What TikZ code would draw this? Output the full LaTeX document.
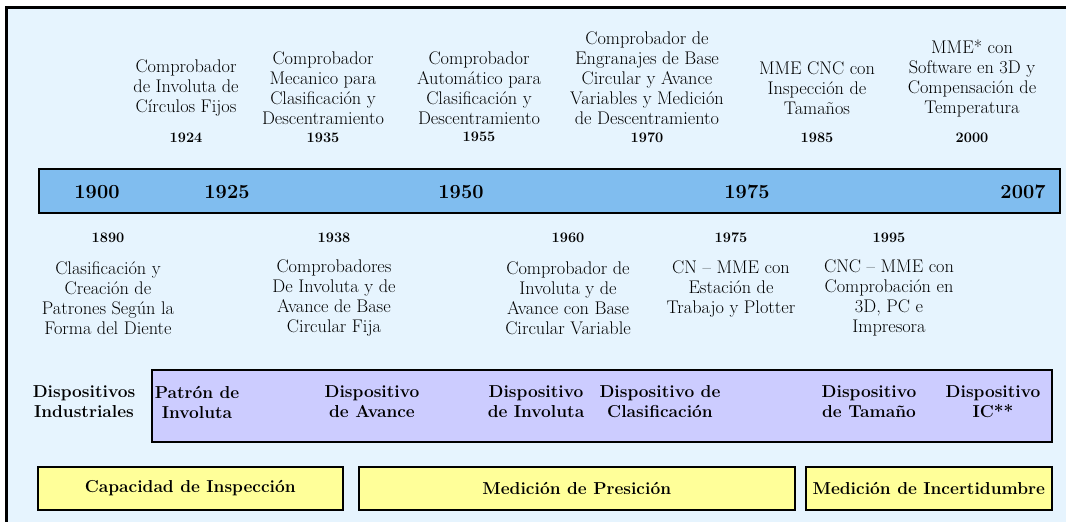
\documentclass[tikz,border=0pt]{standalone}
\definecolor{bgc}{HTML}{E6F4FE}
\definecolor{barc}{HTML}{80BDEF}
\definecolor{purc}{HTML}{CCCCFF}
\definecolor{yelc}{HTML}{FFFF99}
\begin{document}
\begin{tikzpicture}[x=1pt,y=-1pt,
  item/.style={align=center,font=\fontsize{18.3}{20}\selectfont,inner sep=0pt},
  yr/.style={font=\bfseries\fontsize{14.5}{18}\selectfont,inner sep=0pt},
  baryr/.style={font=\bfseries\fontsize{20}{24}\selectfont,inner sep=0pt},
  dev/.style={align=center,font=\bfseries\fontsize{17.3}{20}\selectfont,inner sep=0pt},
  boxbase/.style={draw=black,line width=1.5pt,anchor=north west,inner sep=0pt},
  cat/.style={boxbase,fill=yelc,font=\bfseries\fontsize{17.3}{20}\selectfont,minimum height=43pt},
]
\useasboundingbox (0,0) rectangle (1066,522);
\fill[white] (0,0) rectangle (1066,522);
\draw[line width=3pt,fill=bgc] (6.5,7.5) rectangle (1090,540);

% timeline bar
\node[boxbase,fill=barc,minimum width=1021pt,minimum height=44pt] (bar) at (38,168) {};
\node[baryr] (b1900) at (97,192) {1900};
\node[baryr] (b1925) at (227,192) {1925};
\node[baryr] (b1950) at (461,192) {1950};
\node[baryr] (b1975) at (747,192) {1975};
\node[baryr] (b2007) at (1023,192) {2007};

% upper items
\node[item] (u1) at (186,88) {Comprobador\\de Involuta de\\C\'{\i}rculos Fijos};
\node[yr] (y1924) at (186,138) {1924};
\node[item] (u2) at (323,88) {Comprobador\\Mecanico para\\Clasificaci\'on y\\Descentramiento};
\node[yr] (y1935) at (323,138) {1935};
\node[item] (u3) at (479,88) {Comprobador\\Autom\'atico para\\Clasificaci\'on y\\Descentramiento};
\node[yr] (y1955) at (479,137) {1955};
\node[item] (u4) at (647,78) {Comprobador de\\Engranajes de Base\\Circular y Avance\\Variables y Medici\'on\\de Descentramiento};
\node[yr] (y1970) at (647,138) {1970};
\node[item] (u5) at (817,88) {MME CNC con\\Inspecci\'on de\\Tama\~nos};
\node[yr] (y1985) at (817,138) {1985};
\node[item] (u6) at (972,78) {MME* con\\Software en 3D y\\Compensaci\'on de\\Temperatura};
\node[yr] (y2000) at (972,138) {2000};

% lower items
\node[yr] (y1890) at (108,238) {1890};
\node[item] (l1) at (108,298) {Clasificaci\'on y\\Creaci\'on de\\Patrones Seg\'un la\\Forma del Diente};
\node[yr] (y1938) at (334,238) {1938};
\node[item] (l2) at (334,298) {Comprobadores\\De Involuta y de\\Avance de Base\\Circular Fija};
\node[yr] (y1960) at (568,238) {1960};
\node[item] (l3) at (568,298) {Comprobador de\\Involuta y de\\Avance con Base\\Circular Variable};
\node[yr] (y1975) at (731,238) {1975};
\node[item] (l4) at (731,289) {CN -- MME con\\Estaci\'on de\\Trabajo y Plotter};
\node[yr] (y1995) at (889,238) {1995};
\node[item] (l5) at (889,298) {CNC -- MME con\\Comprobaci\'on en\\3D, PC e\\Impresora};

% devices
\node[boxbase,fill=purc,minimum width=900pt,minimum height=72pt] (dbox) at (151,369) {};
\node[dev] (d0) at (84,402) {Dispositivos\\Industriales};
\node[dev] (d1) at (197,402) {Patr\'on de\\Involuta};
\node[dev] (d2) at (372,402) {Dispositivo\\de Avance};
\node[dev] (d3) at (536,402) {Dispositivo\\de Involuta};
\node[dev] (d4) at (660,402) {Dispositivo de\\Clasificaci\'on};
\node[dev] (d5) at (869,402) {Dispositivo\\de Tama\~no};
\node[dev] (d6) at (993,402) {Dispositivo\\IC**};

% categories
\node[cat,minimum width=305pt] (c1) at (37,466) {Capacidad de Inspecci\'on};
\node[cat,minimum width=436pt] (c2) at (358,466) {Medici\'on de Presici\'on};
\node[cat,minimum width=246pt] (c3) at (805,466) {Medici\'on de Incertidumbre};
\end{tikzpicture}
\end{document}
